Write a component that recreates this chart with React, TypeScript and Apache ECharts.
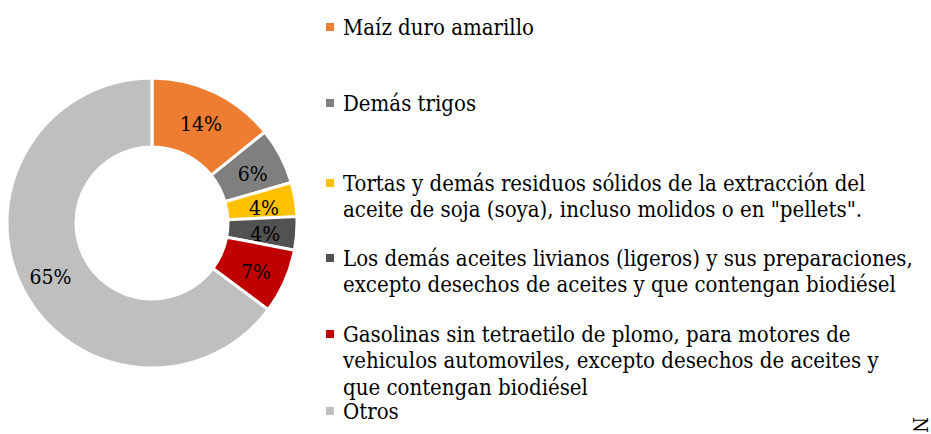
import React, { useEffect, useRef } from "react";
import * as echarts from "echarts";

const categories = [
  "Maíz duro amarillo",
  "Demás trigos",
  "Tortas y demás residuos sólidos de la extracción del aceite de soja (soya), incluso molidos o en \"pellets\".",
  "Los demás aceites livianos (ligeros) y sus preparaciones, excepto desechos de aceites y que contengan biodiésel",
  "Gasolinas sin tetraetilo de plomo, para motores de vehiculos automoviles, excepto desechos de aceites y que contengan biodiésel",
  "Otros",
];

const legendLines: string[][] = [
  ["Maíz duro amarillo"],
  ["Demás trigos"],
  ["Tortas y demás residuos sólidos de la extracción del", "aceite de soja (soya), incluso molidos o en \"pellets\"."],
  ["Los demás aceites livianos (ligeros) y sus preparaciones,", "excepto desechos de aceites y que contengan biodiésel"],
  ["Gasolinas sin tetraetilo de plomo, para motores de", "vehiculos automoviles, excepto desechos de aceites y", "que contengan biodiésel"],
  ["Otros"],
];

const values = [14.2, 6.3, 3.8, 3.7, 7.2, 64.8];

const colors = ["#ED7D31", "#7F7F7F", "#FFC000", "#525252", "#C00000", "#BFBFBF"];

// vertical centre of first line of each legend entry
const legendFirstLineY = [27, 103, 183, 258, 334, 411];

const FONT = "'DejaVu Serif Condensed', 'DejaVu Serif', serif";
const LH = 26.5;

export default function App() {
  const ref = useRef<HTMLDivElement>(null);
  useEffect(() => {
    document.body.style.margin = "0";
    const chart = echarts.init(ref.current!, null, { renderer: "svg" });
    const legends = categories.map((name, i) => {
      const k = legendLines[i].length;
      const n = 2 * k - 1;
      return {
        data: [name],
        orient: "vertical",
        left: 326,
        top: legendFirstLineY[i] - (n * LH) / 2,
        padding: 0,
        itemWidth: 8,
        itemHeight: 8,
        icon: "rect",
        selectedMode: false,
        itemStyle: { borderWidth: 0 },
        textStyle: {
          fontFamily: FONT,
          fontSize: 22,
          color: "#000",
          lineHeight: LH,
          padding: [0, 0, 0, 4],
        },
        formatter: (nm: string) => {
          const idx = categories.indexOf(nm);
          const lines = legendLines[idx];
          const blanks = new Array(lines.length - 1).fill(" ");
          return blanks.concat(lines).join("\n");
        },
      };
    });
    chart.setOption({
      animation: false,
      color: colors,
      legend: legends,
      graphic: [
        {
          type: "text",
          x: 930,
          y: 417,
          rotation: -Math.PI / 2,
          style: { text: "N", font: "20px " + FONT, fill: "#000" },
        },
      ],
      series: [
        {
          type: "pie",
          center: [152, 223],
          radius: [76, 145],
          startAngle: 90,
          clockwise: true,
          avoidLabelOverlap: false,
          itemStyle: { borderColor: "#fff", borderWidth: 3 },
          label: {
            show: true,
            position: "inside",
            offset: [0, 3],
            formatter: (p: any) => Math.round(p.percent) + "%",
            fontFamily: FONT,
            fontSize: 21,
            color: "#000",
          },
          labelLine: { show: false },
          emphasis: { disabled: true },
          data: categories.map((c, i) => ({ name: c, value: values[i] })),
        },
      ],
    });
    return () => chart.dispose();
  }, []);
  return <div ref={ref} style={{ width: 931, height: 434 }} />;
}
